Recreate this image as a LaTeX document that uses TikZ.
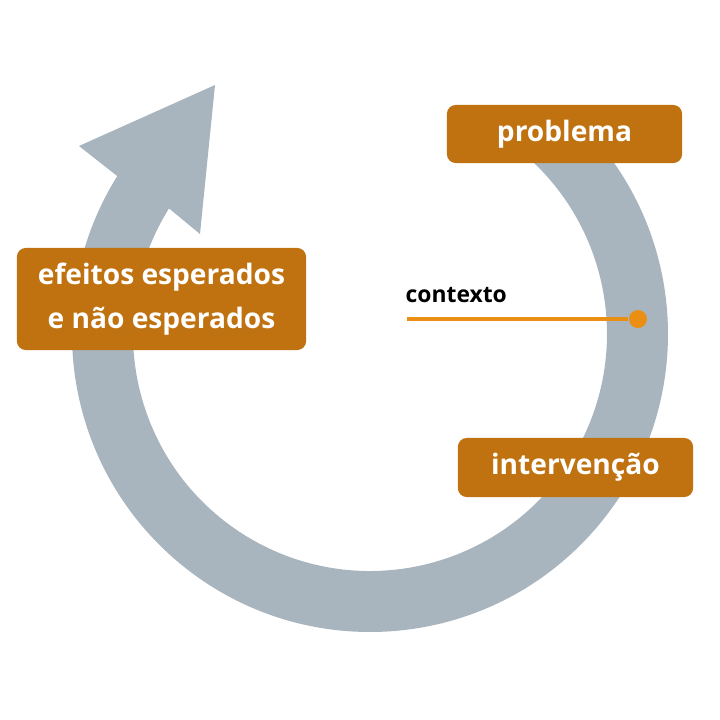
\documentclass[tikz,border=0pt]{standalone}
\usepackage{fontspec}
\setmainfont{Open Sans}
\usetikzlibrary{positioning}
\definecolor{cycleGray}{HTML}{A8B5BE}
\definecolor{boxBrown}{HTML}{BF720F}
\definecolor{ctxOrange}{HTML}{EB8F14}

\begin{document}
\begin{tikzpicture}[x=0.01cm, y=0.01cm,
  stagebox/.style={fill=boxBrown, rounded corners=2.5pt, text=white, inner sep=0pt, align=center,
    font=\bfseries\fontsize{8}{10.8}\selectfont},
  ctxdot/.style={circle, fill=ctxOrange, minimum size=0.18cm, inner sep=0pt}]
\useasboundingbox (0,0) rectangle (720,720);
% the cycle arrow
\begin{scope}[shift={(370,386)}]
\fill[cycleGray] (48:298) arc[start angle=48, end angle=-212, radius=298]
  -- (-291,188) -- (-155,249) -- (-170,100)
  -- (148:237) arc[start angle=148, end angle=408, radius=237] -- cycle;
\end{scope}
% stages
\node[stagebox, minimum width=2.35cm, minimum height=0.58cm] (problema) at (564.5,586) {problema};
\node[stagebox, minimum width=2.35cm, minimum height=0.59cm] (intervencao) at (575.5,252.5) {intervenção};
\node[stagebox, minimum width=2.89cm, minimum height=1.02cm] (efeitos) at (161.5,421) {efeitos esperados\\[1.5pt]e não esperados};
% context marker
\node[ctxdot] (ctxDot) at (638,401) {};
\coordinate (ctxStart) at (407,401);
\draw[ctxOrange, line width=1.1pt] (ctxStart) -- (ctxDot);
\node[anchor=base west, inner sep=0pt, font=\bfseries\fontsize{6.5}{8}\selectfont] (ctxLabel) at (405,418) {contexto};
\end{tikzpicture}
\end{document}
